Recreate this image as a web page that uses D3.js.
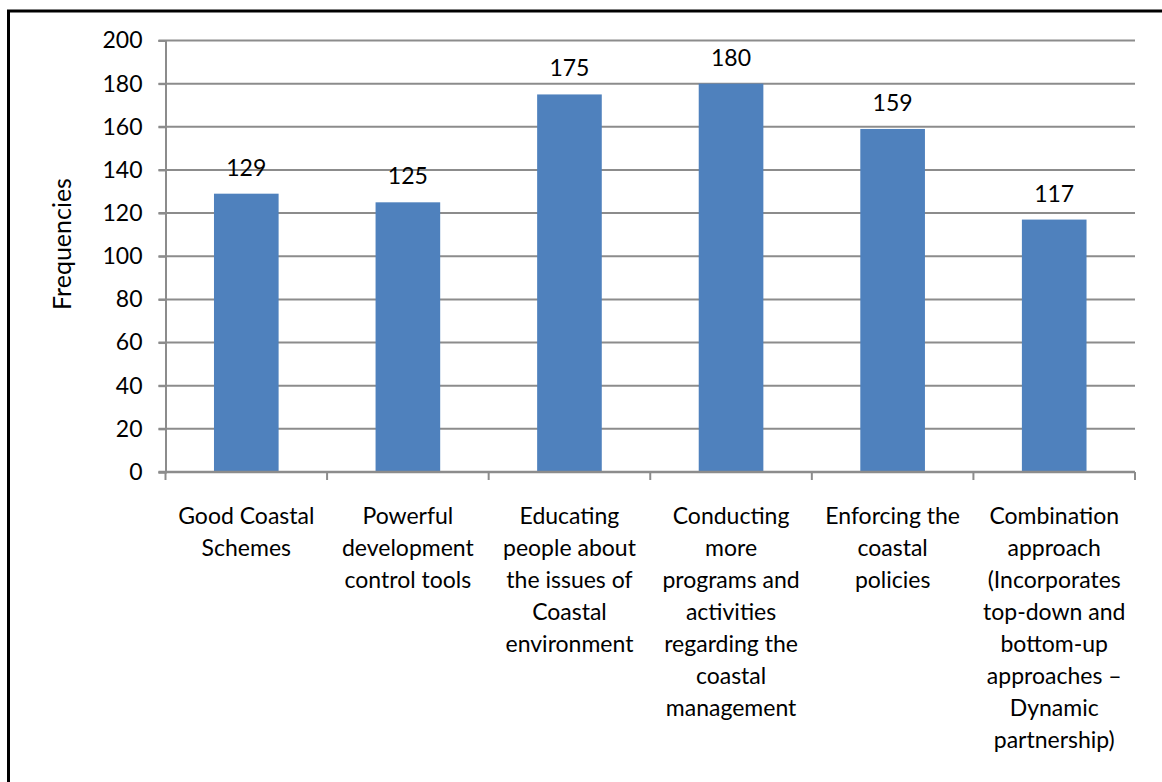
<!DOCTYPE html>
<html>
<head>
<meta charset="utf-8">
<script src="https://cdn.jsdelivr.net/npm/d3@7"></script>
<style>
  html, body { margin: 0; padding: 0; background: #fff; }
  svg { display: block; }
  text { font-family: Lato, "Open Sans", sans-serif; fill: #000; }
</style>
</head>
<body>
<svg id="chart" width="1162" height="782"></svg>
<script>
// Responses per suggested coastal-management measure
const categories = [
  "Good Coastal Schemes",
  "Powerful development control tools",
  "Educating people about the issues of Coastal environment",
  "Conducting more programs and activities regarding the coastal management",
  "Enforcing the coastal policies",
  "Combination approach (Incorporates top-down and bottom-up approaches – Dynamic partnership)"
];
const categoryLines = [
  ["Good Coastal", "Schemes"],
  ["Powerful", "development", "control tools"],
  ["Educating", "people about", "the issues of", "Coastal", "environment"],
  ["Conducting", "more", "programs and", "activities", "regarding the", "coastal", "management"],
  ["Enforcing the", "coastal", "policies"],
  ["Combination", "approach", "(Incorporates", "top-down and", "bottom-up", "approaches –", "Dynamic", "partnership)"]
];
const frequencies = [129, 125, 175, 180, 159, 117];
const yTicks = [0, 20, 40, 60, 80, 100, 120, 140, 160, 180, 200];
const yTitle = "Frequencies";

const svg = d3.select("#chart");
const plotLeft = 165.5, plotRight = 1135, plotTop = 40.5, plotBottom = 472;

// outer frame
svg.append("rect")
  .attr("x", 8.5).attr("y", 11)
  .attr("width", 1200).attr("height", 800)
  .attr("fill", "none").attr("stroke", "#000").attr("stroke-width", 3);

const x = d3.scaleBand().domain(categories).range([plotLeft, plotRight]).padding(0);
const y = d3.scaleLinear().domain([0, 200]).range([plotBottom, plotTop]);

// horizontal gridlines
svg.append("g").selectAll("line")
  .data(yTicks.filter(d => d > 0))
  .join("line")
  .attr("x1", plotLeft - 7).attr("x2", plotRight)
  .attr("y1", d => y(d)).attr("y2", d => y(d))
  .attr("stroke", "#8c8c8c").attr("stroke-width", 2);

// y axis
const yAxis = d3.axisLeft(y).tickValues(yTicks).tickSize(7).tickPadding(16);
const gy = svg.append("g").attr("transform", `translate(${plotLeft},0)`).call(yAxis);
gy.select(".domain").attr("stroke", "#8c8c8c").attr("stroke-width", 2);
gy.selectAll(".tick line").attr("stroke", "#8c8c8c").attr("stroke-width", 2);
gy.selectAll(".tick text").style("font-size", "23px").attr("fill", "#000");

// bars
const barW = x.bandwidth() * 0.4;
svg.append("g").selectAll("rect")
  .data(frequencies)
  .join("rect")
  .attr("x", (d, i) => x(categories[i]) + x.bandwidth() / 2 - barW / 2)
  .attr("y", d => y(d))
  .attr("width", barW)
  .attr("height", d => y(0) - y(d))
  .attr("fill", "#4f81bd");

// x axis baseline and category ticks
svg.append("line")
  .attr("x1", plotLeft - 7).attr("x2", plotRight)
  .attr("y1", plotBottom).attr("y2", plotBottom)
  .attr("stroke", "#8c8c8c").attr("stroke-width", 2.5);
const bounds = categories.map(c => x(c)).concat([plotRight]);
svg.append("g").selectAll("line")
  .data(bounds)
  .join("line")
  .attr("x1", d => d).attr("x2", d => d)
  .attr("y1", plotBottom).attr("y2", plotBottom + 8)
  .attr("stroke", "#8c8c8c").attr("stroke-width", 2);

// value labels
svg.append("g").selectAll("text")
  .data(frequencies)
  .join("text")
  .attr("x", (d, i) => x(categories[i]) + x.bandwidth() / 2)
  .attr("y", d => y(d) - 18)
  .attr("text-anchor", "middle")
  .style("font-size", "23px")
  .text(d => d);

// category labels
const lab = svg.append("g").selectAll("text")
  .data(categoryLines)
  .join("text")
  .attr("text-anchor", "middle")
  .style("font-size", "23px")
  .attr("transform", (d, i) => `translate(${x(categories[i]) + x.bandwidth() / 2},524)`);
lab.selectAll("tspan")
  .data(d => d)
  .join("tspan")
  .attr("x", 0)
  .attr("y", (d, j) => j * 32)
  .text(d => d);

// y axis title
svg.append("text")
  .attr("transform", "translate(71,244) rotate(-90)")
  .attr("text-anchor", "middle")
  .style("font-size", "25px")
  .text(yTitle);
</script>
</body>
</html>
